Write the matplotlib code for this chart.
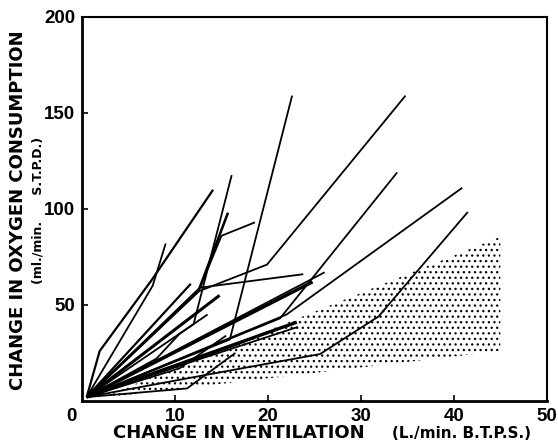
import matplotlib.pyplot as plt
from matplotlib.patches import Polygon

# each subject's curve: change in ventilation (L/min) vs change in O2 uptake (ml/min)
curves_x = [
    [0.5, 1.9, 7.5, 14.1],
    [0.5, 7.6, 9.0],
    [0.5, 11.7],
    [0.5, 12.5, 15.7],
    [0.5, 12.0, 16.1],
    [0.5, 12.7, 15.0, 18.6],
    [0.5, 12.7, 23.8],
    [0.5, 12.5, 19.9, 34.8],
    [0.5, 15.9, 22.6],
    [0.5, 21.3, 33.9],
    [0.5, 22.0, 40.9],
    [0.5, 12.7, 25.6, 31.9, 41.5],
    [0.5, 24.8],
    [0.5, 26.1],
    [0.5, 11.3, 16.5],
    [0.5, 12.8, 23.2],
    [0.5, 8.0, 10.5, 13.5],
    [0.5, 10.5, 15.5],
    [0.5, 23.1],
    [0.5, 14.8],
    [0.5, 16.5, 20.0],
]
curves_y = [
    [2.0, 26.0, 63.0, 110.0],
    [2.0, 60.0, 82.0],
    [2.0, 61.0],
    [2.0, 57.0, 98.0],
    [2.0, 40.0, 117.6],
    [2.0, 59.0, 86.0, 93.0],
    [2.0, 59.0, 66.0],
    [2.0, 57.0, 71.0, 159.0],
    [2.0, 32.0, 159.0],
    [2.0, 43.0, 119.0],
    [2.0, 45.0, 111.0],
    [2.0, 13.0, 24.4, 44.0, 98.4],
    [2.0, 62.0],
    [2.0, 67.0],
    [2.0, 6.5, 25.0],
    [2.0, 22.0, 38.5],
    [2.0, 22.0, 35.0, 45.0],
    [2.0, 17.0, 34.0],
    [2.0, 41.0],
    [2.0, 55.0],
    [2.0, 29.0, 36.0],
]
curves_lw = [1.6, 1.3, 1.6, 1.8, 1.3, 1.3, 1.3, 1.3, 1.3, 1.3, 1.3, 1.3,
             2.4, 1.3, 1.3, 1.3, 1.3, 1.3, 2.4, 2.2, 1.3]

# stippled band (normal range)
band_x = [2.0, 45.0, 45.0]
band_y = [1.5, 85.5, 26.0]

x_ticks = [10, 20, 30, 40, 50]
y_ticks = [50, 100, 150, 200]

plt.rcParams['hatch.linewidth'] = 0.9
fig = plt.figure(figsize=(5.58, 4.44), dpi=100)
ax = fig.add_axes([0.147, 0.097, 0.833, 0.865])

ax.add_patch(Polygon(list(zip(band_x, band_y)), closed=True, facecolor='none',
                     edgecolor='black', linewidth=0, hatch='...'))

for xs, ys, lw in zip(curves_x, curves_y, curves_lw):
    ax.plot(xs, ys, color='black', lw=lw, solid_capstyle='butt')

ax.set_xlim(0, 50)
ax.set_ylim(0, 200)
ax.set_xticks(x_ticks)
ax.set_yticks(y_ticks)
ax.tick_params(direction='in', length=4, width=1.2, pad=5)
for lab in ax.get_xticklabels() + ax.get_yticklabels():
    lab.set_fontsize(13.5)
    lab.set_fontweight('bold')
    lab.set_family('Liberation Sans')
ax.text(-0.012, -0.018, '0', transform=ax.transAxes, ha='right', va='top',
        fontsize=13.5, fontweight='bold', family='Liberation Sans')
for side, w in [('left', 2.0), ('bottom', 2.0), ('top', 1.5), ('right', 1.5)]:
    ax.spines[side].set_linewidth(w)

fig.text(0.203, 0.024, 'CHANGE IN VENTILATION', ha='left', va='center',
         fontsize=13, fontweight='bold')
fig.text(0.952, 0.024, '(L./min. B.T.P.S.)', ha='right', va='center',
         fontsize=11, fontweight='bold')
fig.text(0.032, 0.527, 'CHANGE IN OXYGEN CONSUMPTION', rotation=90, ha='center',
         va='center', fontsize=13, fontweight='bold')
fig.text(0.068, 0.527, '(ml./min.      S.T.P.D.)', rotation=90, ha='center',
         va='center', fontsize=9, fontweight='bold')

fig.savefig('out.png', dpi=100)
